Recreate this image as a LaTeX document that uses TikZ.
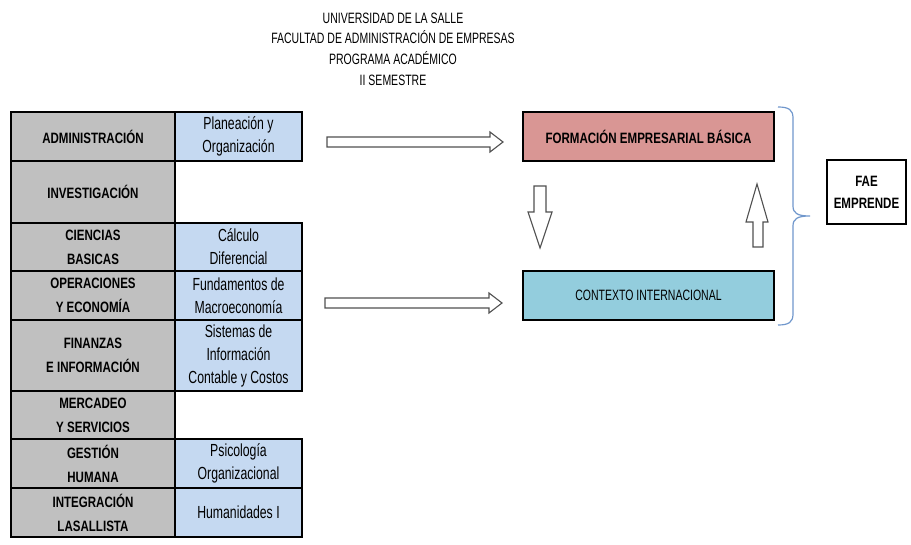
\documentclass[tikz,border=0pt]{standalone}
\usepackage{fontspec}
\setmainfont{Liberation Sans}[FakeStretch=0.7]
\newfontfamily\tb{Liberation Sans Bold}[FakeStretch=0.77]
\definecolor{cellgray}{HTML}{C0C0C0}
\definecolor{cellblue}{HTML}{C5D9F1}
\definecolor{boxpink}{HTML}{D99694}
\definecolor{boxteal}{HTML}{93CDDD}
\definecolor{bracecol}{HTML}{7097CC}
\definecolor{arrowcol}{HTML}{505050}
\tikzset{
  cellbase/.style={draw=black, line width=1.8pt, inner sep=0pt, align=center, text=black},
  gcell/.style={cellbase, fill=cellgray, minimum width=164, font=\tb\fontsize{15}{24}\selectfont},
  bcell/.style={cellbase, fill=cellblue, minimum width=127, font=\fontsize{17.5}{23}\selectfont},
  bigbox/.style={draw=black, line width=1.8pt, inner sep=0pt, minimum width=251, minimum height=49},
  blockarrow/.style={draw=arrowcol, line width=1.1pt, fill=white, line join=miter},
}
\begin{document}
\begin{tikzpicture}[x=1pt,y=-1pt]
\useasboundingbox (0,0) rectangle (911,545);
% title
\node[align=center, font=\fontsize{15}{20.7}\selectfont] (title) at (393,49)
  {UNIVERSIDAD DE LA SALLE\\FACULTAD DE ADMINISTRACIÓN DE EMPRESAS\\PROGRAMA ACADÉMICO\\II SEMESTRE};
% left column
\node[gcell, minimum height=49] (adm) at (93,136.5) {ADMINISTRACIÓN};
\node[gcell, minimum height=62] (inv) at (93,192) {INVESTIGACIÓN};
\node[gcell, minimum height=48] (cie) at (93,247) {CIENCIAS\\BASICAS};
\node[gcell, minimum height=49] (ope) at (93,295.5) {OPERACIONES\\Y ECONOMÍA};
\node[gcell, minimum height=71] (fin) at (93,355.5) {FINANZAS\\E INFORMACIÓN};
\node[gcell, minimum height=48] (mer) at (93,415) {MERCADEO\\Y SERVICIOS};
\node[gcell, minimum height=49] (ges) at (93,463.5) {GESTIÓN\\HUMANA};
\node[gcell, minimum height=49] (int) at (93,512.5) {INTEGRACIÓN\\LASALLISTA};
% right column
\node[bcell, minimum height=49] (pla) at (238.5,136.5) {Planeación y\\Organización};
\node[bcell, minimum height=48] (cal) at (238.5,247) {Cálculo\\Diferencial};
\node[bcell, minimum height=49] (fun) at (238.5,295.5) {Fundamentos de\\Macroeconomía};
\node[bcell, minimum height=71] (sis) at (238.5,355.5) {Sistemas de\\Información\\Contable y Costos};
\node[bcell, minimum height=49] (psi) at (238.5,463.5) {Psicología\\Organizacional};
\node[bcell, minimum height=49] (hum) at (238.5,512.5) {Humanidades I};
% right boxes
\node[bigbox, fill=boxpink, font=\tb\fontsize{15}{18}\selectfont] (feb) at (648.5,136.5) {FORMACIÓN EMPRESARIAL BÁSICA};
\node[bigbox, fill=boxteal, font=\fontsize{15}{18}\selectfont] (ctx) at (648.5,295.5) {CONTEXTO INTERNACIONAL};
\node[draw=black, line width=1.8pt, inner sep=0pt, minimum width=79, minimum height=64, align=center, font=\tb\fontsize{15}{22}\selectfont] (fae) at (866.5,192) {FAE\\EMPRENDE};
% block arrows
\draw[blockarrow] (327,137) -- (490,137) -- (490,132) -- (503,142) -- (490,152) -- (490,147) -- (327,147) -- cycle;
\draw[blockarrow] (325,298) -- (489,298) -- (489,293) -- (502,303) -- (489,313) -- (489,308) -- (325,308) -- cycle;
\draw[blockarrow] (534,186) -- (546,186) -- (546,212) -- (552,212) -- (540,248) -- (528,212) -- (534,212) -- cycle;
\draw[blockarrow] (753,247) -- (763,247) -- (763,222) -- (768,222) -- (757,184) -- (746,222) -- (753,222) -- cycle;
% brace
\draw[bracecol, line width=1.2pt] (778,107) .. controls (789,107) and (793,110) .. (793,118) -- (793,206)
  .. controls (793,213) and (797,216) .. (810,216) .. controls (797,216) and (793,219) .. (793,226)
  -- (793,314) .. controls (793,322) and (789,325) .. (778,325);
\end{tikzpicture}
\end{document}
